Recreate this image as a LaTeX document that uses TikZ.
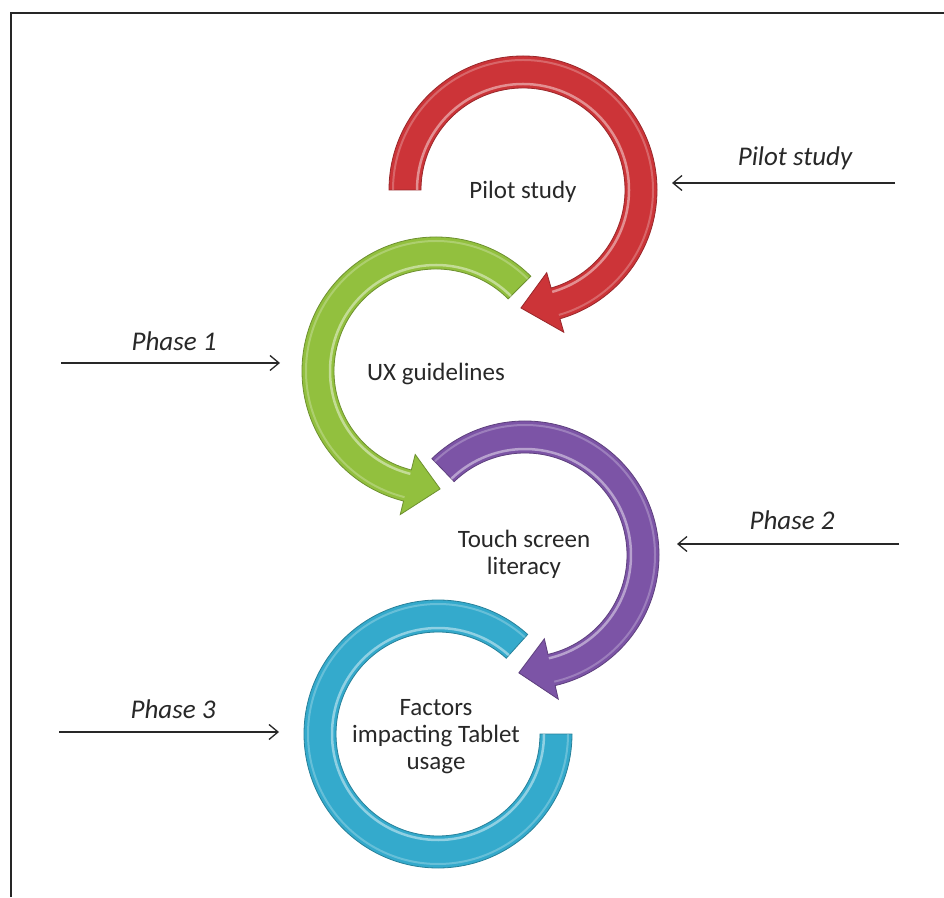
\documentclass[tikz,border=0pt]{standalone}
\usepackage{fontspec}
\setmainfont{Carlito}
\usetikzlibrary{arrows.meta}
\definecolor{redA}{RGB}{204,52,56}
\definecolor{greenA}{RGB}{146,192,62}
\definecolor{purpleA}{RGB}{124,84,166}
\definecolor{cyanA}{RGB}{52,170,204}
\definecolor{txt}{RGB}{40,40,40}
\newcommand\bandarrow[6]{%
  \begin{scope}[shift={(#1,#2)}]
    \fill[#6, draw=#6!75!black, line width=0.8pt]
      (#3:134) arc[start angle=#3, end angle=#4, radius=134]
      -- (#4:148) -- (#5:118) -- (#4:86) -- (#4:102)
      arc[start angle=#4, end angle=#3, radius=102] -- cycle;
    \draw[white, opacity=0.45, line width=2.5pt]
      (#3:106) arc[start angle=#3, end angle=#4, radius=106];
    \draw[white, opacity=0.25, line width=2pt]
      (#3:130) arc[start angle=#3, end angle=#4, radius=130];
  \end{scope}}
\newcommand\bandring[5]{%
  \begin{scope}[shift={(#1,#2)}]
    \fill[#5, draw=#5!75!black, line width=0.8pt]
      (#3:134) arc[start angle=#3, end angle=#4, radius=134]
      -- (#4:102) arc[start angle=#4, end angle=#3, radius=102] -- cycle;
    \draw[white, opacity=0.45, line width=2.5pt]
      (#3:106) arc[start angle=#3, end angle=#4, radius=106];
    \draw[white, opacity=0.25, line width=2pt]
      (#3:130) arc[start angle=#3, end angle=#4, radius=130];
  \end{scope}}
\begin{document}
\begin{tikzpicture}[x=1pt,y=1pt,
  inlabel/.style={text=txt, font=\fontsize{25}{27}\selectfont, align=center},
  sidelabel/.style={text=txt, font=\fontsize{27}{30}\selectfont\itshape},
  sidearrow/.style={draw=txt, line width=1.3pt, -{Straight Barb[length=9pt,width=15pt,line width=1.3pt]}},
  frameline/.style={draw=black!85, line width=2pt}]
\useasboundingbox[fill=white] (0,0) rectangle (944,897);
\draw[frameline] (11,0) -- (11,884) -- (944,884);
% curved arrows (drawn back to front)
\bandring{438}{163}{48}{360}{cyanA}
\bandarrow{525}{342}{134}{-77}{-93}{purpleA}
\bandarrow{436}{526}{45}{256}{272}{greenA}
\bandarrow{523}{707}{180}{-74}{-91}{redA}
% texts inside
\node[inlabel] (tpilot) at (523,705) {Pilot study};
\node[inlabel] (tux) at (436,523) {UX guidelines};
\node[inlabel] (ttouch) at (524,343) {Touch screen\\literacy};
\node[inlabel] (tfac) at (436,160) {Factors\\impacting Tablet\\usage};
% side labels and arrows
\coordinate (ps) at (895,714); \coordinate (pe) at (672,714);
\draw[sidearrow] (ps) -- (pe);
\node[sidelabel] (lpilot) at (795,739) {Pilot study};
\coordinate (a1s) at (61,534); \coordinate (a1e) at (280,534);
\draw[sidearrow] (a1s) -- (a1e);
\node[sidelabel] (lph1) at (174,556) {Phase 1};
\coordinate (a2s) at (899,353); \coordinate (a2e) at (677,353);
\draw[sidearrow] (a2s) -- (a2e);
\node[sidelabel] (lph2) at (792,377) {Phase 2};
\coordinate (a3s) at (59,165); \coordinate (a3e) at (279,165);
\draw[sidearrow] (a3s) -- (a3e);
\node[sidelabel] (lph3) at (173,188) {Phase 3};
\end{tikzpicture}
\end{document}
